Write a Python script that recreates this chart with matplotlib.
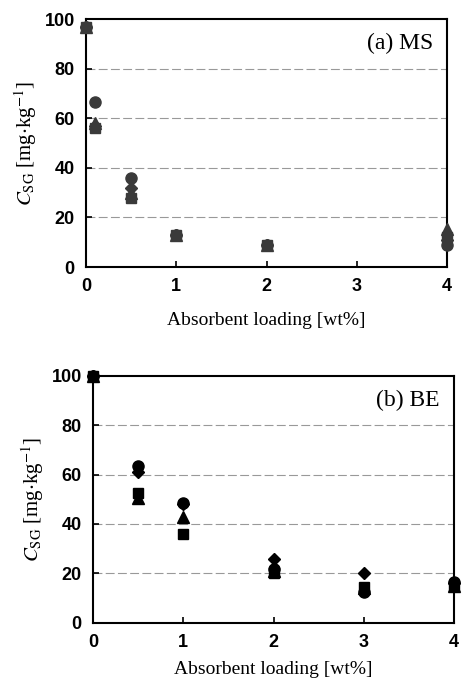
import numpy as np
import matplotlib
matplotlib.use("Agg")
import matplotlib.pyplot as plt

plt.rcParams['font.family'] = ['Liberation Serif', 'DejaVu Serif']
plt.rcParams['mathtext.fontset'] = 'stix'

# (a) MS
ms_x = [0, 0.1, 0.5, 1, 2, 4]
ms_square = [97, 56, 28, 13, 9, 12]
ms_circle = [97, 66.5, 36, 13, 9, 9]
ms_triangle = [97, 58, 30, 13, 9, 15.5]
ms_diamond = [97, 57, 32, 13, 9, 11]

# (b) BE
be_x = [0, 0.5, 1, 2, 3, 4]
be_square = [100, 52.5, 36, 20, 14.5, 15]
be_circle = [100, 63.5, 48.5, 22, 12.5, 16.5]
be_triangle = [100, 50.5, 43, 21, 14, 15]
be_diamond = [100, 61, 48, 26, 20, 16]

fig = plt.figure(figsize=(4.62, 6.83), dpi=100)
ax_a = fig.add_axes([0.186, 0.609, 0.782, 0.363])
ax_b = fig.add_axes([0.201, 0.088, 0.782, 0.362])


def style(ax, label, xpad):
    ax.set_xlim(0, 4)
    ax.set_ylim(0, 100)
    ax.set_xticks([0, 1, 2, 3, 4])
    ax.set_yticks([0, 20, 40, 60, 80, 100])
    for y in [20, 40, 60, 80]:
        ax.axhline(y, color='#999999', lw=0.8, ls=(0, (8, 3)), zorder=0)
    for s in ax.spines.values():
        s.set_linewidth(1.5)
    ax.tick_params(direction='in', length=4, width=1.2, pad=8)
    for t in ax.get_xticklabels() + ax.get_yticklabels():
        t.set_fontfamily('Liberation Sans')
        t.set_fontweight('bold')
        t.set_fontsize(13)
    ax.set_ylabel(r'$C_{\mathrm{SG}}$ [mg$\cdot$kg$^{-1}$]', fontsize=15, labelpad=4)
    ax.set_xlabel('Absorbent loading [wt%]', fontsize=14, labelpad=xpad)
    ax.text(0.96, 0.9, label, transform=ax.transAxes, ha='right', va='center', fontsize=17)


def plot_series(ax, x, sq, ci, tr, di, col, sq_top=False):
    kw = dict(ls='none', color=col, ms=8, clip_on=False, zorder=3)
    ax.plot(x, tr, marker='^', **kw)
    ax.plot(x, di, marker='D', **dict(kw, ms=6.5))
    ax.plot(x, ci, marker='o', **kw)
    ax.plot(x, sq, marker='s', **dict(kw, ms=7, zorder=4 if sq_top else 2))


plot_series(ax_a, ms_x, ms_square, ms_circle, ms_triangle, ms_diamond, '#3a3a3a', sq_top=True)
style(ax_a, '(a) MS', 12)
plot_series(ax_b, be_x, be_square, be_circle, be_triangle, be_diamond, 'black')
style(ax_b, '(b) BE', 7)

fig.savefig('out.png', dpi=100)
